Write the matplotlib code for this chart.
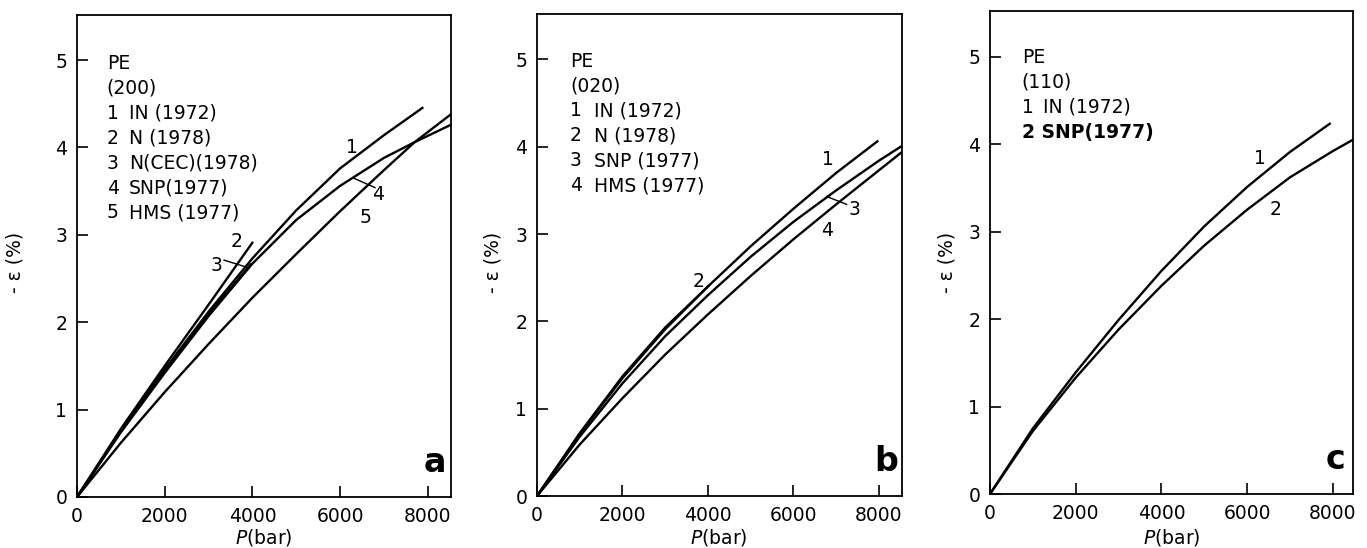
import matplotlib.pyplot as plt

# panel a: PE (200)
a_p1 = [0, 1000, 2000, 3000, 4000, 5000, 6000, 7000, 7900]
a_e1 = [0, 0.76, 1.46, 2.12, 2.73, 3.28, 3.76, 4.14, 4.46]
a_p2 = [0, 1000, 2000, 3000, 4014]
a_e2 = [0, 0.78, 1.50, 2.20, 2.92]
a_p3 = [0, 1000, 2000, 3000, 3976]
a_e3 = [0, 0.75, 1.44, 2.09, 2.67]
a_p4 = [0, 1000, 2000, 3000, 4000, 5000, 6000, 7000, 7700, 8530]
a_e4 = [0, 0.74, 1.42, 2.07, 2.67, 3.17, 3.56, 3.88, 4.06, 4.26]
a_p5 = [0, 1000, 2000, 3000, 4000, 5000, 6000, 7000, 7700, 8530]
a_e5 = [0, 0.62, 1.20, 1.75, 2.28, 2.78, 3.27, 3.74, 4.06, 4.38]

# panel b: PE (020)
b_p1 = [0, 1000, 2000, 3000, 4000, 5000, 6000, 7000, 7986]
b_e1 = [0, 0.71, 1.35, 1.91, 2.40, 2.86, 3.29, 3.70, 4.07]
b_p2 = [0, 1000, 2000, 3000, 4044]
b_e2 = [0, 0.72, 1.37, 1.93, 2.42]
b_p3 = [0, 1000, 2000, 3000, 4000, 5000, 6000, 7000, 8000, 8540]
b_e3 = [0, 0.68, 1.29, 1.83, 2.30, 2.74, 3.14, 3.50, 3.84, 4.01]
b_p4 = [0, 1000, 2000, 3000, 4000, 5000, 6000, 7000, 8000, 8540]
b_e4 = [0, 0.59, 1.12, 1.62, 2.08, 2.52, 2.94, 3.34, 3.73, 3.94]

# panel c: PE (110)
c_p1 = [0, 1000, 2000, 3000, 4000, 5000, 6000, 7000, 7950]
c_e1 = [0, 0.75, 1.39, 1.99, 2.55, 3.06, 3.51, 3.91, 4.24]
c_p2 = [0, 1000, 2000, 3000, 4000, 5000, 6000, 7000, 8000, 8470]
c_e2 = [0, 0.72, 1.33, 1.88, 2.38, 2.84, 3.25, 3.62, 3.92, 4.05]

a_nums = ["1", "2", "3", "4", "5"]
a_names = ["IN (1972)", "N (1978)", "N(CEC)(1978)", "SNP(1977)", "HMS (1977)"]
b_nums = ["1", "2", "3", "4"]
b_names = ["IN (1972)", "N (1978)", "SNP (1977)", "HMS (1977)"]

xticks = [0, 2000, 4000, 6000, 8000]
yticks = [0, 1, 2, 3, 4, 5]

FS = 13.5
W, H = 1367, 548
fig = plt.figure(figsize=(W / 100, H / 100), dpi=100)


def make_axes(left, right, top, bottom, xmax):
    ax = fig.add_axes([left / W, 1 - bottom / H, (right - left) / W, (bottom - top) / H])
    ax.set_xlim(0, xmax)
    ax.set_ylim(0, 5.52)
    ax.set_xticks(xticks)
    ax.set_yticks(yticks)
    ax.tick_params(direction="in", length=8, width=1.2, labelsize=FS, pad=7,
                   top=False, right=False)
    for s in ax.spines.values():
        s.set_linewidth(1.3)
    return ax


def curve(ax, p, e):
    ax.plot(p, e, color="black", lw=1.7, solid_capstyle="butt", solid_joinstyle="round")


def legend(ax, x, x2, y0, sub, nums, names, dy=0.285):
    ax.text(x, y0, "PE", fontsize=FS, va="center")
    ax.text(x, y0 - dy, sub, fontsize=FS, va="center")
    for i, (n, name) in enumerate(zip(nums, names)):
        y = y0 - dy * (i + 2)
        ax.text(x, y, n, fontsize=FS, va="center")
        ax.text(x2, y, name, fontsize=FS, va="center")


def ylab(xpix):
    fig.text(xpix / W, 1 - 262 / H, "- ε (%)", rotation=90, fontsize=FS,
             ha="center", va="center")


def xlab(xpix):
    fig.text(xpix / W, 1 - 537 / H, "$P$(bar)", fontsize=FS,
             ha="center", va="center")


# ---- panel a
ax = make_axes(77, 451, 14.6, 497, 8530)
for p, e in [(a_p1, a_e1), (a_p2, a_e2), (a_p3, a_e3), (a_p4, a_e4), (a_p5, a_e5)]:
    curve(ax, p, e)
legend(ax, 677, 1190, 4.96, "(200)", a_nums, a_names)
ax.text(6266, 4.00, "1", fontsize=FS, ha="center", va="center")
ax.text(3643, 2.92, "2", fontsize=FS, ha="center", va="center")
ax.text(3186, 2.65, "3", fontsize=FS, ha="center", va="center")
ax.plot([3354, 3871], [2.71, 2.63], color="black", lw=1)
ax.text(6875, 3.46, "4", fontsize=FS, ha="center", va="center")
ax.plot([6304, 6798], [3.65, 3.54], color="black", lw=1)
ax.text(6570, 3.20, "5", fontsize=FS, ha="center", va="center")
ax.text(8167, 0.40, "a", fontsize=24, fontweight="bold", ha="center", va="center")
ylab(15)
xlab(264)

# ---- panel b
ax = make_axes(537, 902, 14.0, 496, 8540)
for p, e in [(b_p1, b_e1), (b_p2, b_e2), (b_p3, b_e3), (b_p4, b_e4)]:
    curve(ax, p, e)
legend(ax, 772, 1330, 4.98, "(020)", b_nums, b_names)
ax.text(6815, 3.85, "1", fontsize=FS, ha="center", va="center")
ax.text(3774, 2.46, "2", fontsize=FS, ha="center", va="center")
ax.text(7420, 3.28, "3", fontsize=FS, ha="center", va="center")
ax.plot([6776, 7244], [3.43, 3.34], color="black", lw=1)
ax.text(6776, 3.04, "4", fontsize=FS, ha="center", va="center")
ax.text(8180, 0.40, "b", fontsize=24, fontweight="bold", ha="center", va="center")
ylab(493)
xlab(719)

# ---- panel c
ax = make_axes(990, 1353, 11.1, 494, 8470)
curve(ax, c_p1, c_e1)
curve(ax, c_p2, c_e2)
ax.text(739, 4.99, "PE", fontsize=FS, va="center")
ax.text(739, 4.71, "(110)", fontsize=FS, va="center")
ax.text(739, 4.42, "1", fontsize=FS, va="center")
ax.text(1245, 4.42, "IN (1972)", fontsize=FS, va="center")
ax.text(739, 4.13, "2 SNP(1977)", fontsize=FS, fontweight="bold", va="center")
ax.text(6288, 3.84, "1", fontsize=FS, ha="center", va="center")
ax.text(6654, 3.25, "2", fontsize=FS, ha="center", va="center")
ax.text(8054, 0.40, "c", fontsize=24, fontweight="bold", ha="center", va="center")
ylab(947)
xlab(1172)

fig.savefig("out.png", dpi=100)
